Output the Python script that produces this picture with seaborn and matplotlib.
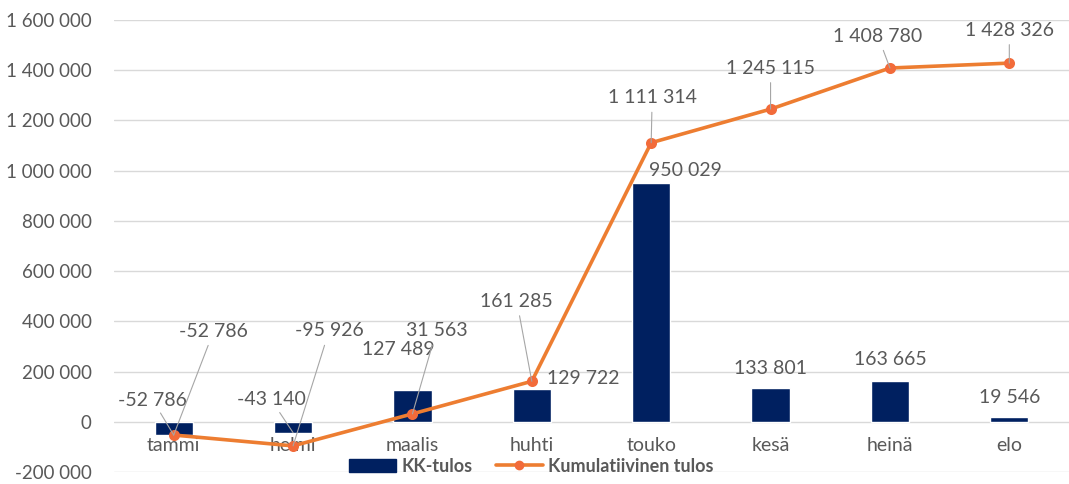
import seaborn as sns
import matplotlib.pyplot as plt
import matplotlib as mpl
import pandas as pd
from matplotlib.lines import Line2D
from matplotlib.patches import Patch

# data
months = ["tammi", "helmi", "maalis", "huhti", "touko", "kesä", "heinä", "elo"]
kk_tulos = [-52786, -43140, 127489, 129722, 950029, 133801, 163665, 19546]
kumulatiivinen = [-52786, -95926, 31563, 161285, 1111314, 1245115, 1408780, 1428326]

bar_color = "#002060"
line_color = "#ED7D31"
marker_color = "#F26B3A"
text_gray = "#595959"
leader_gray = "#A6A6A6"

# label offsets in pixels (x, y)
bar_offsets = [(-21, 35), (-22, 33), (-14, 40), (51, 11), (34, 13), (0, 20), (0, 21), (0, 19)]
bar_leaders = [True, True, False, False, False, False, False, False]
line_offsets = [(40, 104), (36, 115), (24, 83), (-15, 80), (1, 45), (0, 41), (-12, 32), (0, 33)]

sns.set_theme(style="white")
plt.rcParams['font.family'] = ['Lato', 'DejaVu Sans']

df = pd.DataFrame({"month": months, "kk": kk_tulos, "cum": kumulatiivinen})

fig = plt.figure(figsize=(10.69, 4.84), dpi=100)
ax = fig.add_axes([114 / 1069, 12 / 484, 955 / 1069, 452 / 484])

sns.barplot(data=df, x="month", y="kk", color=bar_color, width=0.32,
            saturation=1, ax=ax, zorder=2)
sns.pointplot(data=df, x="month", y="cum", color=line_color, ax=ax,
              markers="o", linewidth=2.6, markersize=6, zorder=3)
# markers slightly redder than the line
for ln in ax.lines:
    ln.set_markerfacecolor(marker_color)
    ln.set_markeredgecolor(marker_color)

ax.set_ylim(-200000, 1600000)
ax.set_xlim(-0.5, 7.5)
ax.set_yticks(range(-200000, 1600001, 200000))
ax.yaxis.set_major_formatter(mpl.ticker.FuncFormatter(
    lambda v, p: f"{int(v):,}".replace(",", " ")))
ax.grid(axis="y", color="#D9D9D9", linewidth=1, zorder=0)
ax.set_axisbelow(True)
for s in ax.spines.values():
    s.set_visible(False)
ax.spines["bottom"].set_position(("data", 0))
ax.tick_params(axis="y", length=0, pad=16, labelsize=13.5, labelcolor=text_gray)
ax.tick_params(axis="x", length=0, pad=11, labelsize=14, labelcolor=text_gray)
ax.set_xlabel(None)
ax.set_ylabel(None)

def fmt(v):
    return f"{v:,}".replace(",", " ")

for i, v in enumerate(kk_tulos):
    arrow = dict(arrowstyle="-", color=leader_gray, lw=0.8, shrinkA=1, shrinkB=0) if bar_leaders[i] else None
    ax.annotate(fmt(v), xy=(i, v), xytext=bar_offsets[i], textcoords="offset pixels",
                ha="center", va="center", fontsize=14, color=text_gray,
                arrowprops=arrow, zorder=4)

for i, v in enumerate(kumulatiivinen):
    ax.annotate(fmt(v), xy=(i, v), xytext=line_offsets[i], textcoords="offset pixels",
                ha="center", va="center", fontsize=14, color=text_gray,
                arrowprops=dict(arrowstyle="-", color=leader_gray, lw=0.8, shrinkA=2, shrinkB=0),
                zorder=4)

handles = [Patch(color=bar_color),
           Line2D([0], [0], color=line_color, lw=2.6, marker="o",
                  markersize=6, markerfacecolor=marker_color, markeredgecolor=marker_color)]
leg = ax.legend(handles, ["KK-tulos", "Kumulatiivinen tulos"], loc="center",
                bbox_to_anchor=(0.437, 0.013), ncol=2, frameon=False,
                handlelength=2.6, handleheight=0.7, columnspacing=1.3, handletextpad=0.3,
                prop={"size": 13, "weight": "bold"})
for t in leg.get_texts():
    t.set_color(text_gray)

plt.savefig("out.png", dpi=100)
